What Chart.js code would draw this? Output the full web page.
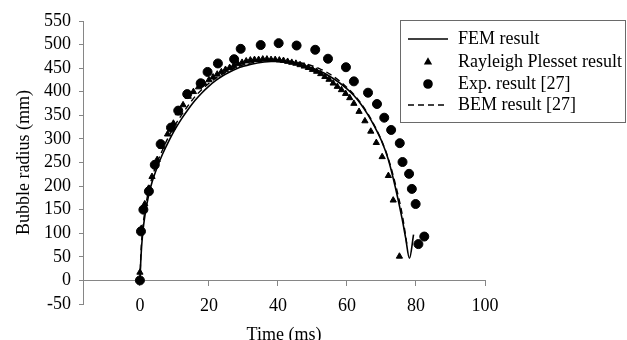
<!DOCTYPE html>
<html>
<head>
<meta charset="utf-8">
<style>
  html, body { margin: 0; padding: 0; background: #fff; }
  #wrap { width: 627px; height: 340px; }
</style>
<script src="https://cdn.jsdelivr.net/npm/chart.js@4.4.1/dist/chart.umd.min.js"></script>
</head>
<body>
<div id="wrap"><canvas id="c" width="627" height="340"></canvas></div>
<script>
// ---------- data ----------
const femTime = [0, 0.3, 0.8, 1.5, 2.5, 3.5, 5, 6.5, 8, 10, 12, 14, 16, 18, 20, 22, 24, 26, 28, 30, 32, 34, 36, 38, 40, 42, 44, 46, 48, 50, 52, 54, 56, 58, 60, 62, 64, 66, 68, 70, 72, 74, 76, 77, 78.1, 79.3];
const femRadius = [0, 50, 100, 140, 180, 208, 240, 267, 290, 318, 342, 363, 382, 398, 412, 424, 434, 442, 449, 454, 458, 461, 463, 464, 464, 463, 462, 459, 455, 450, 444, 437, 428, 418, 406, 392, 374, 352, 326, 296, 256, 198, 130, 90, 47, 97];

const rpTime = [0, 0.4, 1.4, 2.5, 3.5, 5, 6.3, 8, 9.7, 11.1, 12.5, 14, 15.5, 17, 18.5, 20, 21.2, 22.4, 23.6, 24.8, 26, 27.2, 28.4, 29.6, 30.8, 32, 33.2, 34.4, 35.6, 36.8, 38, 39.2, 40.4, 41.6, 42.8, 44, 45.2, 46.4, 47.6, 48.8, 50, 51.2, 52.4, 53.6, 54.8, 56, 57.2, 58.4, 59.6, 60.8, 62, 63.5, 65.2, 66.9, 68.5, 70.2, 72, 73.4, 75.2];
const rpRadius = [17, 110, 162, 195, 220, 256, 284, 310, 333, 355, 372, 390, 400, 410, 418, 425, 431, 437, 442, 447, 451, 455, 459, 462, 465, 467, 468, 468, 469, 469, 468, 468, 467, 466, 464, 462, 460, 457, 454, 451, 447, 443, 438, 432, 426, 418, 411, 404, 396, 387, 375, 358, 338, 316, 292, 262, 222, 170, 51];

const expTime = [0, 0.3, 1, 2.6, 4.3, 6, 9, 11.1, 13.7, 17.6, 19.6, 22.6, 27.3, 29.2, 35, 40.2, 45.4, 50.8, 54.5, 59.7, 62, 66.1, 68.7, 70.8, 72.8, 75.3, 76.1, 78, 78.8, 79.9, 80.7, 82.4];
const expRadius = [0, 104, 150, 189, 245, 289, 324, 360, 395, 418, 442, 460, 469, 491, 499, 503, 498, 489, 470, 452, 422, 398, 374, 345, 319, 291, 251, 226, 194, 162, 77, 93];

const bemTime = [0, 0.3, 0.8, 1.5, 2.5, 3.5, 5, 6.5, 8, 10, 12, 14, 16, 18, 20, 22, 24, 26, 28, 30, 32, 34, 36, 38, 40, 42, 44, 46, 48, 50, 52, 54, 56, 58, 60, 62, 64, 66, 68, 70, 72, 74, 76, 77.5];
const bemRadius = [0, 60, 110, 150, 190, 218, 250, 276, 300, 327, 350, 371, 390, 405, 418, 429, 438, 446, 452, 457, 461, 464, 466, 467, 467, 466, 464, 462, 459, 455, 449, 442, 433, 422, 409, 394, 376, 354, 328, 297, 258, 205, 140, 70];

const seriesLabels = ['FEM result', 'Rayleigh Plesset result', 'Exp. result [27]', 'BEM result [27]'];
const xTickValues = [0, 20, 40, 60, 80, 100];
const yTickValues = [-50, 0, 50, 100, 150, 200, 250, 300, 350, 400, 450, 500, 550];
const xTitle = 'Time (ms)';
const yTitle = 'Bubble radius (mm)';

// ---------- chart ----------
const pts = (xs, ys) => xs.map((x, i) => ({ x: x, y: ys[i] }));
const FONT = "'Liberation Serif', 'Times New Roman', serif";
const AXIS_GRAY = '#868686';
const X_MIN = -16.5, X_MAX = 100, Y_MIN = -50, Y_MAX = 550;

const legendPlugin = {
  id: 'boxLegend',
  afterDraw(chart) {
    const ctx = chart.ctx;
    const bx = 400.5, by = 20.5, bw = 225, bh = 102;
    ctx.save();
    ctx.fillStyle = '#fff';
    ctx.fillRect(bx, by, bw, bh);
    ctx.strokeStyle = '#6a6a6a';
    ctx.lineWidth = 1;
    ctx.strokeRect(bx, by, bw, bh);
    const rowY = [39, 62, 84, 105];
    ctx.font = '18px ' + FONT;
    ctx.textBaseline = 'middle';
    ctx.textAlign = 'left';
    chart.data.datasets.forEach((ds, i) => {
      const y = rowY[i];
      ctx.fillStyle = '#000';
      ctx.strokeStyle = '#000';
      if (ds.showLine) {
        ctx.lineWidth = ds.borderWidth;
        ctx.setLineDash(ds.borderDash || []);
        ctx.beginPath();
        ctx.moveTo(408, y);
        ctx.lineTo(448, y);
        ctx.stroke();
        ctx.setLineDash([]);
      } else {
        Chart.helpers.drawPoint(ctx, {
          pointStyle: ds.pointStyle,
          radius: ds.pointStyle === 'circle' ? 4 : 3.2,
          rotation: 0,
          borderWidth: 1
        }, 428, y);
      }
      ctx.fillStyle = '#000';
      ctx.fillText(ds.label, 458, y);
    });
    ctx.restore();
  }
};

const setXTicks = (s) => { s.ticks = xTickValues.map(v => ({ value: v })); };

new Chart(document.getElementById('c'), {
  type: 'scatter',
  data: {
    datasets: [
      {
        label: seriesLabels[0],
        data: pts(femTime, femRadius),
        showLine: true,
        borderColor: '#000',
        borderWidth: 1.6,
        pointRadius: 0,
        cubicInterpolationMode: 'monotone',
        order: 1
      },
      {
        label: seriesLabels[1],
        data: pts(rpTime, rpRadius),
        showLine: false,
        pointStyle: 'triangle',
        pointRadius: 3.6,
        backgroundColor: '#000',
        borderColor: '#000',
        borderWidth: 1,
        order: 3
      },
      {
        label: seriesLabels[2],
        data: pts(expTime, expRadius),
        showLine: false,
        pointStyle: 'circle',
        pointRadius: 4.5,
        backgroundColor: '#000',
        borderColor: '#000',
        borderWidth: 1,
        order: 4
      },
      {
        label: seriesLabels[3],
        data: pts(bemTime, bemRadius),
        showLine: true,
        borderColor: '#000',
        borderWidth: 1.4,
        borderDash: [6, 4],
        pointRadius: 0,
        cubicInterpolationMode: 'monotone',
        order: 2
      }
    ]
  },
  options: {
    responsive: false,
    devicePixelRatio: 1,
    animation: false,
    layout: { padding: { left: 0, right: 142, top: 21, bottom: 0 } },
    plugins: {
      legend: { display: false },
      tooltip: { enabled: false }
    },
    scales: {
      x: {
        type: 'linear',
        position: 'bottom',
        min: X_MIN,
        max: X_MAX,
        afterBuildTicks: setXTicks,
        afterFit: (s) => { s.height = 36; },
        grid: { display: false, drawTicks: false },
        border: { display: false },
        ticks: { display: false },
        title: { display: true, text: xTitle, color: '#000', font: { family: FONT, size: 18 }, padding: { top: -6, bottom: -6 } }
      },
      xZero: {
        type: 'linear',
        axis: 'x',
        position: { y: 0 },
        min: X_MIN,
        max: X_MAX,
        afterBuildTicks: setXTicks,
        grid: { drawOnChartArea: false, drawTicks: true, tickLength: 5, color: AXIS_GRAY, lineWidth: 1 },
        border: { display: true, color: AXIS_GRAY, width: 1 },
        ticks: { display: false }
      },
      xLabels: {
        type: 'linear',
        axis: 'x',
        position: { y: Y_MIN },
        min: X_MIN,
        max: X_MAX,
        afterBuildTicks: setXTicks,
        grid: { display: false, drawTicks: false },
        border: { display: false },
        ticks: { color: '#000', font: { family: FONT, size: 18 }, padding: -9, maxRotation: 0, autoSkip: false }
      },
      y: {
        type: 'linear',
        position: 'left',
        min: Y_MIN,
        max: Y_MAX,
        afterBuildTicks: (s) => { s.ticks = yTickValues.map(v => ({ value: v })); },
        afterFit: (s) => { s.width = 83; },
        grid: { drawOnChartArea: false, drawTicks: true, tickLength: 4, color: AXIS_GRAY, lineWidth: 1 },
        border: { display: true, color: AXIS_GRAY, width: 1 },
        ticks: { color: '#000', font: { family: FONT, size: 18 }, padding: 8, autoSkip: false },
        title: { display: true, text: yTitle, color: '#000', font: { family: FONT, size: 18 }, padding: { top: 13, bottom: 0 } }
      }
    }
  },
  plugins: [legendPlugin]
});
</script>
</body>
</html>
